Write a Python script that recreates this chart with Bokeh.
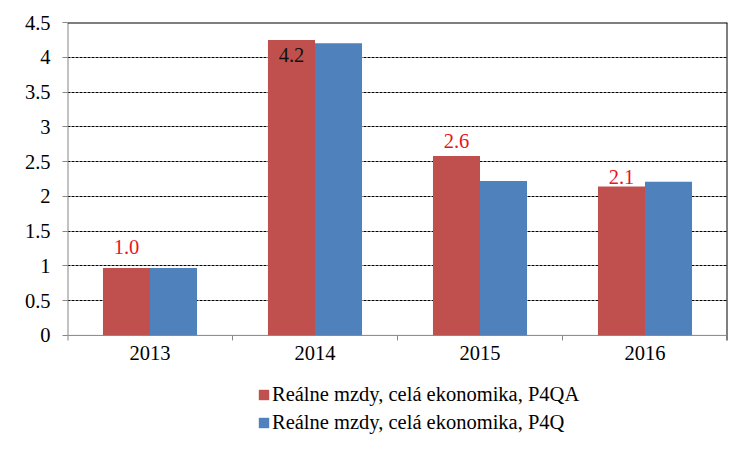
import math
from bokeh.plotting import figure
from bokeh.models import (ColumnDataSource, FixedTicker, Legend, LegendItem, Span,
                          Range1d, LabelSet)
from bokeh.embed import file_html
from bokeh.resources import INLINE

years = ["2013", "2014", "2015", "2016"]
p4qa = [0.97, 4.25, 2.58, 2.14]
p4q = [0.97, 4.20, 2.22, 2.21]
label_texts = ["1.0", "4.2", "2.6", "2.1"]
label_colors = ["#E8141E", "#111111", "#E8141E", "#E8141E"]
label_dy = [14, -22, 8, 3]          # screen offset of label baseline from bar top
y_ticks = [0, 0.5, 1, 1.5, 2, 2.5, 3, 3.5, 4, 4.5]
y_labels = ["0", "0.5", "1", "1.5", "2", "2.5", "3", "3.5", "4", "4.5"]

RED = "#C0504D"
BLUE = "#4F81BD"
GRAY = "#868686"
FONT = "Liberation Serif"
FS = "20.5px"
BAR_W = 0.285
Y_MAX = 4.5
Y_MIN_VIEW = -1.425   # extra room under the axis for the legend
W, H = 734, 434
TOP, LEFT, RIGHT = 22, 67, 7
FRAME_H = H - TOP
TICK_LEN = 5 * (Y_MAX - Y_MIN_VIEW) / FRAME_H   # 5 px in data units

n = len(years)
centers = [i + 0.5 for i in range(n)]
src = ColumnDataSource(dict(
    xr=[c - BAR_W / 2 for c in centers],
    xb=[c + BAR_W / 2 for c in centers],
    red=p4qa, blue=p4q,
))

p = figure(width=W, height=H, x_range=Range1d(0, n),
           y_range=Range1d(Y_MIN_VIEW, Y_MAX), output_backend="svg",
           toolbar_location=None, x_axis_location=None,
           min_border_left=LEFT, min_border_right=RIGHT, min_border_top=TOP,
           min_border_bottom=0)
p.outline_line_color = None
p.background_fill_color = "white"
p.xgrid.grid_line_color = None
p.xgrid.visible = False

# grid (not at 0 or top)
p.ygrid.ticker = FixedTicker(ticks=[t for t in y_ticks if 0 < t < Y_MAX])
p.ygrid.grid_line_color = "#000000"
p.ygrid.grid_line_dash = "3 1"
p.ygrid.grid_line_width = 1

r1 = p.vbar(x="xr", top="red", width=BAR_W, source=src, fill_color=RED, line_color=None)
r2 = p.vbar(x="xb", top="blue", width=BAR_W, source=src, fill_color=BLUE, line_color=None)

# data labels
for i in range(n):
    ls = ColumnDataSource(dict(x=[src.data["xr"][i]], y=[p4qa[i]], t=[label_texts[i]]))
    p.add_layout(LabelSet(x="x", y="y", text="t", source=ls, text_color=label_colors[i],
                          text_font=FONT, text_font_size=FS, text_align="center",
                          text_baseline="alphabetic", y_offset=label_dy[i]))

# category axis drawn by hand at y = 0
bounds = list(range(1, n))
p.scatter(x=bounds, y=[-TICK_LEN / 2] * len(bounds), marker="dash", size=5,
          angle=math.pi / 2, line_color=GRAY, line_width=1)
p.add_layout(Span(location=0, dimension="width", line_color=GRAY, line_width=1))
cat_src = ColumnDataSource(dict(x=centers, y=[0] * n, t=years))
p.add_layout(LabelSet(x="x", y="y", text="t", source=cat_src, text_font=FONT,
                      text_font_size=FS, text_align="center", text_baseline="top",
                      text_color="#000000", y_offset=-11))

# y axis
p.yaxis.ticker = FixedTicker(ticks=y_ticks)
p.yaxis.major_label_overrides = {t: l for t, l in zip(y_ticks, y_labels)}
p.yaxis.major_tick_out = 5
p.yaxis.major_tick_in = 0
p.yaxis.minor_tick_line_color = None
p.yaxis.major_tick_line_color = GRAY
p.yaxis.axis_line_color = None
p.yaxis.major_label_standoff = 12
p.yaxis.major_label_text_font = FONT
p.yaxis.major_label_text_font_size = FS
p.yaxis.major_label_text_color = "#000000"
p.segment(x0=[0], y0=[-TICK_LEN], x1=[0], y1=[Y_MAX], line_color=GRAY, line_width=2)

# plot-area border (top and right)
p.add_layout(Span(location=Y_MAX, dimension="width", line_color="black", line_width=2))
p.segment(x0=[n], y0=[-TICK_LEN], x1=[n], y1=[Y_MAX], line_color="black", line_width=2)

legend = Legend(items=[
    LegendItem(label="Reálne mzdy, celá ekonomika, P4QA", renderers=[r1]),
    LegendItem(label="Reálne mzdy, celá ekonomika, P4Q", renderers=[r2]),
], location=(190, 0))
legend.border_line_color = None
legend.background_fill_alpha = 0
legend.label_text_font = FONT
legend.label_text_font_style = "normal"
legend.label_text_font_size = FS
legend.label_text_color = "#000000"
legend.glyph_width = 13
legend.glyph_height = 13
legend.label_standoff = 2
legend.label_height = 20
legend.spacing = 5
legend.padding = 0
legend.margin = 0
p.add_layout(legend)

open("out.html", "w").write(file_html(p, INLINE))
